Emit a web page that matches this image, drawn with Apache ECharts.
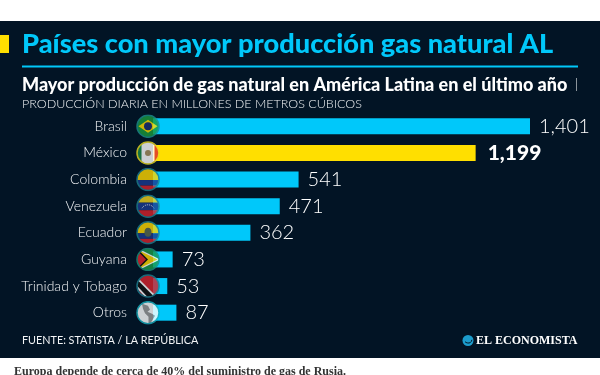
<!DOCTYPE html>
<html>
<head>
<meta charset="utf-8">
<style>
  html, body { margin: 0; padding: 0; background: #fff; }
  #main { width: 600px; height: 375px; }
</style>
<script src="https://cdn.jsdelivr.net/npm/echarts@6/dist/echarts.min.js"></script>
</head>
<body>
<div id="main"></div>
<script>
const countries = ['Brasil', 'México', 'Colombia', 'Venezuela', 'Ecuador', 'Guyana', 'Trinidad y Tobago', 'Otros'];
const production = [1401, 1199, 541, 471, 362, 73, 53, 87];
const highlight = 'México';

const CYAN = '#00c8fa', YELLOW = '#ffdf00', NAVY = '#021425';
const FONT = 'Lato, "Open Sans", sans-serif';

// flags as little svgs, clipped to a circle
function flag(ring, body) {
  const svg = `<svg xmlns="http://www.w3.org/2000/svg" viewBox="0 0 48 48"><defs><clipPath id="c"><circle cx="24" cy="24" r="22"/></clipPath></defs><g clip-path="url(#c)">${body}</g><circle cx="24" cy="24" r="22" fill="none" stroke="${ring}" stroke-width="3"/></svg>`;
  return 'image://data:image/svg+xml;charset=utf-8,' + encodeURIComponent(svg);
}
const flags = {
  'Brasil': flag('#1c8f8a', '<rect width="48" height="48" fill="#1a9a3c"/><path d="M5 24 24 11 43 24 24 37z" fill="#ffdf00"/><circle cx="24" cy="24" r="8" fill="#1c2f70"/>'),
  'México': flag('#e8d820', '<rect width="48" height="48" fill="#fff"/><rect width="11" height="48" fill="#1a8a4a"/><rect x="37" width="11" height="48" fill="#e02c2c"/><circle cx="24" cy="24" r="6" fill="#a89060"/>'),
  'Colombia': flag('#1c7f90', '<rect width="48" height="25" fill="#ffd800"/><rect y="25" width="48" height="11" fill="#1c3a90"/><rect y="36" width="48" height="12" fill="#d8222c"/>'),
  'Venezuela': flag('#1c7f90', '<rect width="48" height="17" fill="#f2d21c"/><rect y="17" width="48" height="15" fill="#1c3a90"/><rect y="32" width="48" height="16" fill="#d8222c"/><path d="M12 28a14 14 0 0 1 24 0" fill="none" stroke="#fff" stroke-width="2" stroke-dasharray="2 2"/>'),
  'Ecuador': flag('#1c7f90', '<rect width="48" height="25" fill="#ffd800"/><rect y="25" width="48" height="11" fill="#1c3a90"/><rect y="36" width="48" height="12" fill="#d8222c"/><ellipse cx="24" cy="23" rx="7" ry="9" fill="#5a6a50"/>'),
  'Guyana': flag('#1c8f7a', '<rect width="48" height="48" fill="#1a9a4a"/><path d="M0 0 48 24 0 48z" fill="#fff"/><path d="M0 3 43 24 0 45z" fill="#ffd800"/><path d="M0 0 24 24 0 48z" fill="#111"/><path d="M0 4 20 24 0 44z" fill="#e0242c"/>'),
  'Trinidad y Tobago': flag('#1c7f90', '<rect width="48" height="48" fill="#d8222c"/><path d="M0 4 44 48H20L0 26z" fill="#fff"/><path d="M0 9 39 48H25L0 21z" fill="#111"/>'),
  'Otros': flag('#18b0c0', '<rect width="48" height="48" fill="#fff"/><path d="M12 6 24 10 28 18 23 22 32 26 38 30 32 40 28 47 25 44 25 32 18 25 14 16z" fill="#9a9a9a"/>')
};

const chart = echarts.init(document.getElementById('main'), null, { renderer: 'canvas' });

chart.setOption({
  animation: false,
  backgroundColor: '#fff',
  grid: { left: 153, right: 70, top: 113, bottom: 49, containLabel: false },
  xAxis: { type: 'value', min: 0, max: 1401, show: false },
  yAxis: {
    type: 'category',
    inverse: true,
    data: countries,
    axisLine: { show: false },
    axisTick: { show: false },
    axisLabel: { color: '#f2f4f6', fontFamily: FONT, fontSize: 14, fontWeight: 300, margin: 26 }
  },
  title: [
    { text: 'Países con mayor producción gas natural AL', left: 22, top: 31, padding: 0,
      textStyle: { color: CYAN, fontFamily: FONT, fontSize: 27.2, fontWeight: 900 } },
    { text: 'Mayor producción de gas natural en América Latina en el último año', left: 22, top: 76, padding: 0,
      textStyle: { color: '#fff', fontFamily: FONT, fontSize: 18, fontWeight: 900 } },
    { text: '|', left: 575, top: 78, padding: 0, textStyle: { color: '#fff', fontFamily: FONT, fontSize: 13, fontWeight: 300 } },
    { text: 'PRODUCCIÓN DIARIA EN MILLONES DE METROS CÚBICOS', left: 22, top: 97, padding: 0,
      textStyle: { color: '#f2f4f6', fontFamily: FONT, fontSize: 12.5, fontWeight: 300 } },
    { text: 'FUENTE: STATISTA / LA REPÚBLICA', left: 22, top: 335, padding: 0,
      textStyle: { color: '#f2f4f6', fontFamily: FONT, fontSize: 10.8, fontWeight: 400 } },
    { text: 'EL ECONOMISTA', left: 476, top: 334.5, padding: 0,
      textStyle: { color: '#fff', fontFamily: '"Liberation Serif", serif', fontSize: 12, fontWeight: 700 } },
    { text: 'Europa depende de cerca de 40% del suministro de gas de Rusia.', left: 14, top: 366, padding: 0,
      textStyle: { color: '#333', fontFamily: '"Liberation Serif", serif', fontSize: 12, fontWeight: 700 } }
  ],
  graphic: [
    { type: 'rect', z: -10, shape: { x: 0, y: 21, width: 600, height: 337 }, style: { fill: NAVY } },
    { type: 'rect', z: -9, shape: { x: 0, y: 35, width: 9, height: 18 }, style: { fill: YELLOW } },
    { type: 'rect', z: -9, shape: { x: 22, y: 65.5, width: 556, height: 2 }, style: { fill: CYAN } },
    { type: 'circle', z: -9, shape: { cx: 468, cy: 340.5, r: 5.5 }, style: { fill: '#1c9ccc' } },
    { type: 'arc', z: -8, shape: { cx: 468, cy: 339, r: 4, startAngle: 0.2, endAngle: 2.4 }, style: { stroke: NAVY, fill: null, lineWidth: 1 } }
  ],
  series: [
    {
      type: 'bar',
      barWidth: 16,
      data: production.map((v, i) => ({
        value: v,
        itemStyle: { color: countries[i] === highlight ? YELLOW : CYAN },
        label: countries[i] === highlight ? { fontWeight: 900, fontSize: 21, distance: 12 } : {}
      })),
      label: {
        show: true,
        position: 'right',
        distance: 9,
        color: '#fff',
        fontFamily: FONT,
        fontSize: 20,
        fontWeight: 300,
        formatter: p => p.value.toLocaleString('en-US')
      }
    },
    {
      type: 'scatter',
      z: 5,
      symbolSize: 24,
      symbolOffset: [-5, 0],
      data: countries.map((c, i) => ({ value: [0, c], symbol: flags[c] }))
    }
  ]
});
</script>
</body>
</html>
